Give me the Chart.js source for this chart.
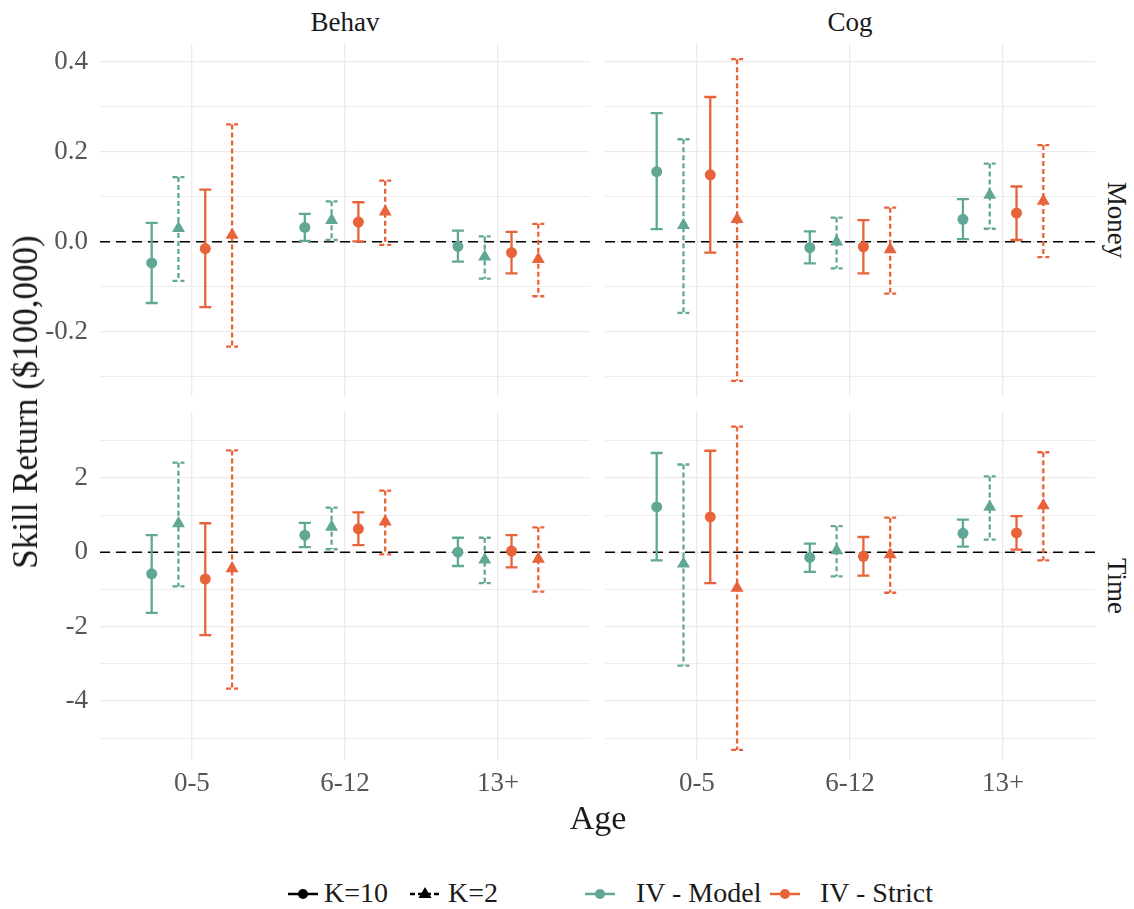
<!DOCTYPE html>
<html>
<head>
<meta charset="utf-8">
<script src="https://cdn.jsdelivr.net/npm/chart.js@4.4.1/dist/chart.umd.min.js"></script>
<style>
  body { margin: 0; background: #fff; width: 1134px; height: 909px; position: relative; overflow: hidden; font-family: "Liberation Serif", serif; }
  canvas { position: absolute; }
  .lbl { position: absolute; color: #1a1a1a; white-space: nowrap; }
  .strip { font-size: 27px; }
  .leg { position: absolute; top: 877px; font-size: 28px; color: #1a1a1a; white-space: nowrap; }
  .key { position: absolute; top: 882px; }
</style>
</head>
<body>
<canvas id="behavMoney"></canvas>
<canvas id="cogMoney"></canvas>
<canvas id="behavTime"></canvas>
<canvas id="cogTime"></canvas>

<div class="lbl strip" style="left:345px;top:22px;transform:translate(-50%,-50%)">Behav</div>
<div class="lbl strip" style="left:850px;top:22px;transform:translate(-50%,-50%)">Cog</div>
<div class="lbl strip" style="left:1116px;top:220px;transform:translate(-50%,-50%) rotate(90deg)">Money</div>
<div class="lbl strip" style="left:1116px;top:586px;transform:translate(-50%,-50%) rotate(90deg)">Time</div>
<div class="lbl" style="left:26px;top:402px;font-size:35px;transform:translate(-50%,-50%) rotate(-90deg)">Skill Return ($100,000)</div>
<div class="lbl" style="left:598px;top:818px;font-size:34px;transform:translate(-50%,-50%)">Age</div>

<svg class="key" style="left:286px" width="34" height="24"><line x1="2" y1="12" x2="32" y2="12" stroke="#000" stroke-width="2.5"/><circle cx="17" cy="12" r="5" fill="#000"/></svg>
<div class="leg" style="left:324px">K=10</div>
<svg class="key" style="left:408px" width="34" height="24"><line x1="2" y1="12" x2="32" y2="12" stroke="#000" stroke-width="2.5" stroke-dasharray="5,3"/><polygon points="17,5 23.5,16 10.5,16" fill="#000"/></svg>
<div class="leg" style="left:448px">K=2</div>
<svg class="key" style="left:583px" width="34" height="24"><line x1="2" y1="12" x2="32" y2="12" stroke="#60A895" stroke-width="2.5"/><circle cx="17" cy="12" r="5" fill="#60A895"/></svg>
<div class="leg" style="left:636px">IV - Model</div>
<svg class="key" style="left:768px" width="34" height="24"><line x1="2" y1="12" x2="32" y2="12" stroke="#E8633A" stroke-width="2.5"/><circle cx="17" cy="12" r="5" fill="#E8633A"/></svg>
<div class="leg" style="left:820px">IV - Strict</div>

<script>
// age groups on the x axis
const ages = ["0-5", "6-12", "13+"];

// each entry: [estimate, lower, upper] for 0-5, 6-12, 13+
const behavMoneyModel10 = [[-0.047, -0.136, 0.042], [0.032, 0.002, 0.062], [-0.010, -0.044, 0.025]];
const behavMoneyModel2  = [[0.030, -0.087, 0.144], [0.048, 0.004, 0.090], [-0.033, -0.082, 0.012]];
const behavMoneyStrict10 = [[-0.015, -0.145, 0.116], [0.044, 0.001, 0.088], [-0.024, -0.070, 0.022]];
const behavMoneyStrict2  = [[0.015, -0.233, 0.261], [0.067, -0.007, 0.136], [-0.039, -0.121, 0.040]];

const cogMoneyModel10 = [[0.156, 0.028, 0.286], [-0.013, -0.048, 0.023], [0.050, 0.006, 0.095]];
const cogMoneyModel2  = [[0.037, -0.158, 0.228], [0.000, -0.059, 0.054], [0.104, 0.029, 0.174]];
const cogMoneyStrict10 = [[0.149, -0.024, 0.322], [-0.011, -0.070, 0.048], [0.064, 0.004, 0.123]];
const cogMoneyStrict2  = [[0.050, -0.309, 0.406], [-0.017, -0.115, 0.076], [0.091, -0.034, 0.215]];

const behavTimeModel10 = [[-0.58, -1.63, 0.46], [0.46, 0.14, 0.79], [0.00, -0.37, 0.39]];
const behavTimeModel2  = [[0.77, -0.92, 2.41], [0.68, 0.08, 1.20], [-0.20, -0.83, 0.39]];
const behavTimeStrict10 = [[-0.72, -2.23, 0.78], [0.63, 0.19, 1.07], [0.03, -0.41, 0.46]];
const behavTimeStrict2  = [[-0.44, -3.67, 2.74], [0.82, -0.06, 1.66], [-0.18, -1.06, 0.67]];

const cogTimeModel10 = [[1.22, -0.22, 2.67], [-0.14, -0.53, 0.23], [0.51, 0.15, 0.88]];
const cogTimeModel2  = [[-0.31, -3.05, 2.36], [0.05, -0.65, 0.70], [1.22, 0.34, 2.04]];
const cogTimeStrict10 = [[0.95, -0.83, 2.73], [-0.11, -0.63, 0.41], [0.52, 0.07, 0.97]];
const cogTimeStrict2  = [[-0.96, -5.32, 3.38], [-0.06, -1.09, 0.93], [1.26, -0.22, 2.69]];

// y tick values per row
const moneyTicks = [-0.3, -0.2, -0.1, 0, 0.1, 0.2, 0.3, 0.4];
const moneyLabels = ["-0.2", "0.0", "0.2", "0.4"];
const timeTicks = [-5, -4, -3, -2, -1, 0, 1, 2, 3];
const timeLabels = ["-4", "-2", "0", "2"];

const teal = "#60A895";
const orange = "#E8633A";
const dodge = 0.7;

const errorBars = {
	id: 'errorBars',
	beforeDatasetsDraw(chart) {
		const {ctx, chartArea, scales: {x, y}} = chart;
		ctx.save();
		// dashed zero line
		const y0 = y.getPixelForValue(0);
		ctx.strokeStyle = '#000';
		ctx.lineWidth = 1.6;
		ctx.setLineDash([10, 6]);
		ctx.beginPath();
		ctx.moveTo(chartArea.left, y0);
		ctx.lineTo(chartArea.right, y0);
		ctx.stroke();
		chart.data.datasets.forEach(ds => {
			ctx.strokeStyle = ds.borderColor;
			ctx.lineWidth = 2.3;
			ctx.setLineDash(ds.dashed ? [5, 3] : []);
			ds.data.forEach(p => {
				const px = x.getPixelForValue(p.x);
				const lo = y.getPixelForValue(p.lo);
				const hi = y.getPixelForValue(p.hi);
				ctx.beginPath();
				ctx.moveTo(px - 6, hi); ctx.lineTo(px + 6, hi);
				ctx.moveTo(px, hi); ctx.lineTo(px, lo);
				ctx.moveTo(px - 6, lo); ctx.lineTo(px + 6, lo);
				ctx.stroke();
			});
		});
		ctx.restore();
	}
};

function makeSeries(rows, slot, color, dashed) {
	const off = -dodge / 2 + dodge / 8 + slot * dodge / 4;
	return {
		data: rows.map((r, i) => ({x: i + 1 + off, y: r[0], lo: r[1], hi: r[2]})),
		borderColor: color,
		backgroundColor: color,
		pointStyle: dashed ? 'triangle' : 'circle',
		pointRadius: dashed ? 7.5 : 5.5,
		pointBorderWidth: 0,
		showLine: false,
		dashed: dashed
	};
}

function fmt(v, ticks) {
	const t = ticks === moneyTicks ? v.toFixed(1) : String(Math.round(v));
	return t === "-0.0" ? "0.0" : t;
}

// area = wanted plot rectangle on the page
function makePanel(id, area, series, ticks, labels, yMin, yMax, showY, showX) {
	const cv = document.getElementById(id);
	const axisW = showY ? 100 : 0;
	const axisH = showX ? 45 : 0;
	cv.width = area.w + axisW;
	cv.height = area.h + axisH;
	cv.style.left = (area.left - axisW) + 'px';
	cv.style.top = area.top + 'px';
	const gridColor = '#EBEBEB';
	return new Chart(cv, {
		type: 'scatter',
		data: {
			datasets: [
				makeSeries(series[0], 0, teal, false),
				makeSeries(series[1], 1, teal, true),
				makeSeries(series[2], 2, orange, false),
				makeSeries(series[3], 3, orange, true)
			]
		},
		options: {
			responsive: false,
			animation: false,
			layout: { padding: 0, autoPadding: false },
			plugins: { legend: { display: false }, tooltip: { enabled: false } },
			scales: {
				x: {
					type: 'linear', min: 0.4, max: 3.6,
					afterBuildTicks: s => { s.ticks = ages.map((a, i) => ({value: i + 1})); },
					// fixed axis size, no extra room around the labels
					afterFit: s => { s.height = axisH; s.paddingLeft = 0; s.paddingRight = 0; },
					grid: { color: gridColor, lineWidth: 1.3, drawTicks: false },
					border: { display: false },
					ticks: {
						display: showX, padding: 8, color: '#555',
						font: { family: 'Liberation Serif', size: 27 },
						callback: v => ages[Math.round(v) - 1]
					}
				},
				y: {
					type: 'linear', min: yMin, max: yMax,
					afterBuildTicks: s => { s.ticks = ticks.map(v => ({value: v})); },
					afterFit: s => { s.width = axisW; s.paddingTop = 0; s.paddingBottom = 0; },
					grid: {
						color: gridColor, drawTicks: false,
						lineWidth: c => labels.includes(fmt(c.tick.value, ticks)) ? 1.3 : 0.9
					},
					border: { display: false },
					ticks: {
						display: showY, padding: 12, color: '#555',
						font: { family: 'Liberation Serif', size: 27 },
						callback: v => { const t = fmt(v, ticks); return labels.includes(t) ? t : ''; }
					}
				}
			}
		},
		plugins: [errorBars]
	});
}

makePanel('behavMoney', {left: 100, top: 43, w: 490, h: 354},
	[behavMoneyModel10, behavMoneyModel2, behavMoneyStrict10, behavMoneyStrict2],
	moneyTicks, moneyLabels, -0.345, 0.442, true, false);
makePanel('cogMoney', {left: 605, top: 43, w: 490, h: 354},
	[cogMoneyModel10, cogMoneyModel2, cogMoneyStrict10, cogMoneyStrict2],
	moneyTicks, moneyLabels, -0.345, 0.442, false, false);
makePanel('behavTime', {left: 100, top: 411, w: 490, h: 349},
	[behavTimeModel10, behavTimeModel2, behavTimeStrict10, behavTimeStrict2],
	timeTicks, timeLabels, -5.59, 3.80, true, true);
makePanel('cogTime', {left: 605, top: 411, w: 490, h: 349},
	[cogTimeModel10, cogTimeModel2, cogTimeStrict10, cogTimeStrict2],
	timeTicks, timeLabels, -5.59, 3.80, false, true);
</script>
</body>
</html>
